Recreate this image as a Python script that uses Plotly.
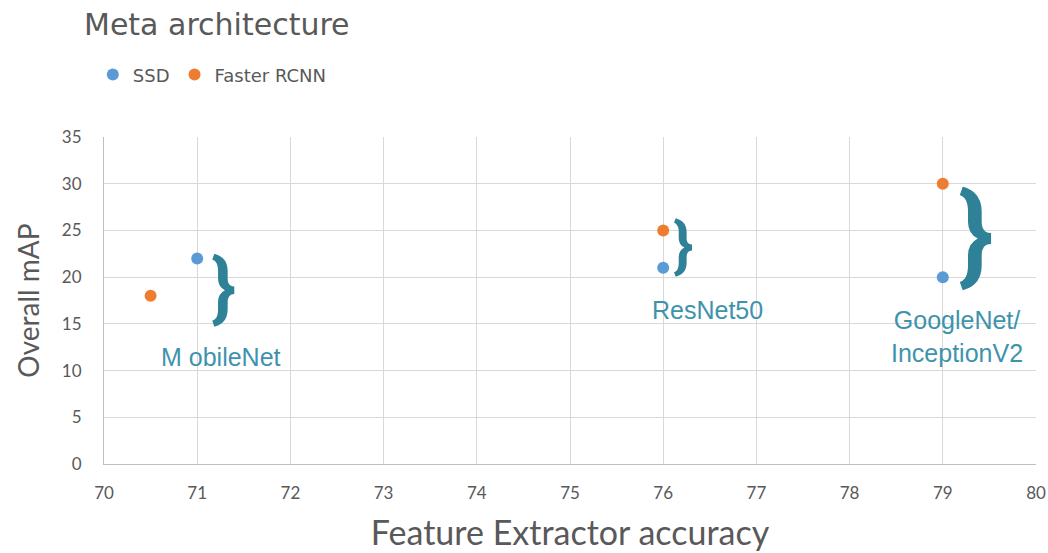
import plotly.graph_objects as go

# Data
series_names = ["SSD", "Faster RCNN"]
ssd_x = [71, 76, 79]
ssd_y = [22, 21, 20]
frcnn_x = [70.5, 76, 79]
frcnn_y = [18, 25, 30]

x_ticks = list(range(70, 81))
y_ticks = list(range(0, 36, 5))

# Brace annotations: (x, y, font size)
brace_x = [71.28, 76.21, 79.36]
brace_y = [18.9, 23.5, 24.6]
brace_size = [76, 62, 108]

label_text = ["M obileNet", "ResNet50", "GoogleNet/<br>InceptionV2"]
label_x = [71.26, 76.48, 79.15]
label_y = [11.45, 16.5, 13.6]

teal = "#2E8197"
label_color = "#3E93AC"
grey_text = "#595959"

W, H = 1048, 553

fig = go.Figure()
fig.add_trace(go.Scatter(x=ssd_x, y=ssd_y, mode="markers", name=series_names[0],
                         marker=dict(color="#5B9BD5", size=12)))
fig.add_trace(go.Scatter(x=frcnn_x, y=frcnn_y, mode="markers", name=series_names[1],
                         marker=dict(color="#ED7D31", size=12)))

for bx, by, bs in zip(brace_x, brace_y, brace_size):
    fig.add_annotation(x=bx, y=by, text="<b>}</b>", showarrow=False, xanchor="center", yanchor="middle",
                       font=dict(family="Roboto", size=bs, color=teal))

for lx, ly, lt in zip(label_x, label_y, label_text):
    fig.add_annotation(x=lx, y=ly, text=lt, showarrow=False, xanchor="center", yanchor="middle",
                       font=dict(family="Liberation Sans", size=25, color=label_color))

fig.update_layout(
    width=W, height=H,
    paper_bgcolor="white", plot_bgcolor="white",
    margin=dict(l=104, r=12, t=137, b=89, autoexpand=False),
    title=dict(text="Meta architecture", x=84 / W, xanchor="left", y=1 - 24 / H, yanchor="middle",
               font=dict(family="DejaVu Sans", size=30, color=grey_text)),
    legend=dict(orientation="h", x=-0.012, y=1.19, xanchor="left", yanchor="middle",
                font=dict(family="DejaVu Sans", size=18, color=grey_text), itemsizing="constant",
                itemwidth=30, bgcolor="rgba(0,0,0,0)"),
    xaxis=dict(range=[70, 80], tickvals=x_ticks, showgrid=True, gridcolor="#D9D9D9",
               showline=True, linecolor="#BFBFBF", zeroline=False, ticks="",
               ticklabelstandoff=14, automargin=False,
               tickfont=dict(family="Lato", size=17, color=grey_text),
               title=dict(text="Feature Extractor accuracy", standoff=18,
                          font=dict(family="Lato", size=34, color=grey_text))),
    yaxis=dict(range=[0, 35], tickvals=y_ticks, showgrid=True, gridcolor="#D9D9D9",
               showline=True, linecolor="#BFBFBF", zeroline=False, ticks="",
               ticklabelstandoff=18, automargin=False,
               tickfont=dict(family="Lato", size=17, color=grey_text),
               title=dict(text="Overall mAP", standoff=14,
                          font=dict(family="Lato", size=28, color=grey_text))),
)

fig.write_html("out.html", config={"displayModeBar": False},
               post_script="document.body.style.margin='0';document.body.style.overflow='hidden';")
